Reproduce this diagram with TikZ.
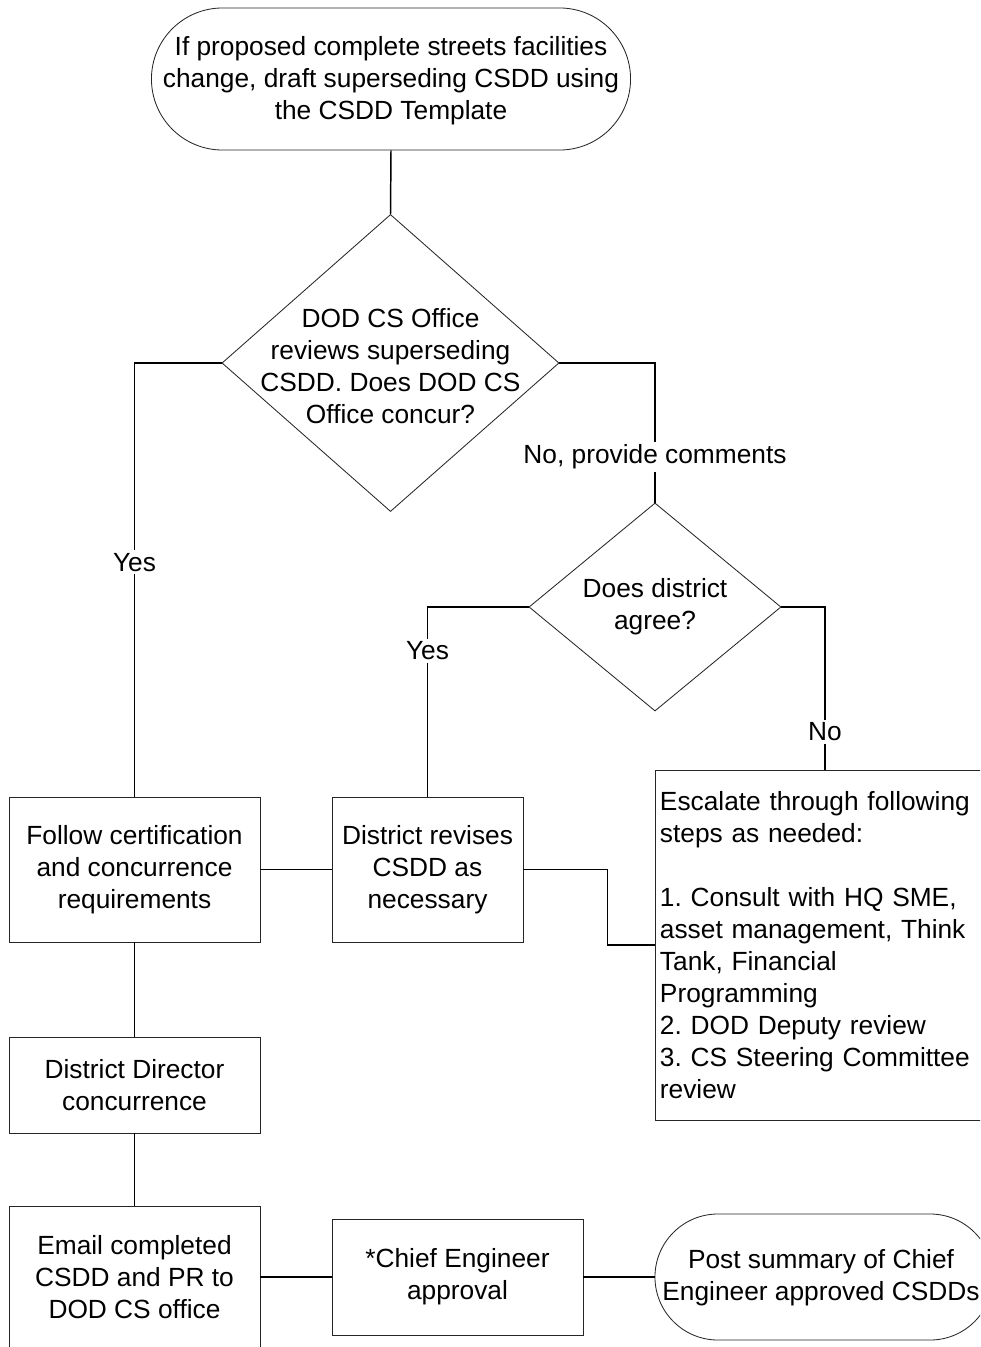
\documentclass[tikz,border=0pt]{standalone}
\usepackage{fontspec}
\setmainfont{Liberation Sans}
\usetikzlibrary{shapes.geometric,shapes.misc}
\frenchspacing

\newcommand{\flowfont}{\fontsize{18.7}{22.8}\selectfont}
\tikzset{
	base/.style={draw=black!85, line width=0.6pt, font=\flowfont, inner sep=0pt},
	stepbox/.style={base, rectangle, align=center},
	decision/.style={base, diamond},
	terminal/.style={base, rounded rectangle},
	caption/.style={font=\flowfont, align=center, inner sep=0pt},
	link/.style={line width=1.05pt},
	lbl/.style={font=\flowfont, fill=white, inner sep=2pt},
}

\begin{document}
\begin{tikzpicture}[x=0.025cm, y=-0.025cm]
		\useasboundingbox (0,0) rectangle (980,1347);
		\clip (0,0) rectangle (980,1347);
		% shapes
		\node[terminal, minimum width=11.975cm, minimum height=3.55cm] (start) at (391,79) {};
		\node[caption] (starttext) at (391,81) {If proposed complete streets facilities\\change, draft superseding CSDD using\\the CSDD Template};
		\node[decision, minimum width=8.425cm, minimum height=7.425cm] (q1) at (390.5,363) {};
		\node[caption] (q1text) at (390.5,366) {DOD CS Office\\reviews superseding\\CSDD. Does DOD CS\\Office concur?};
		\node[decision, minimum width=6.3cm, minimum height=5.2cm] (q2) at (655,607) {};
		\node[caption] (q2text) at (655,607) {Does district\\agree?};
		\node[stepbox, minimum width=6.275cm, minimum height=3.625cm] (follow) at (134.5,869.5) {Follow certification\\and concurrence\\requirements};
		\node[stepbox, minimum width=4.775cm, minimum height=3.625cm] (revise) at (427.5,869.5) {District revises\\CSDD as\\necessary};
		\node[base, align=left, text width=8.25cm, inner xsep=0.125cm, minimum height=8.75cm] (escalate) at (825,945)
		{Escalate through following\\steps as needed:\\\mbox{}\\1. Consult with HQ SME,\\asset management, Think\\Tank, Financial\\Programming\\2. DOD Deputy review\\3. CS Steering Committee\\review};
		\node[stepbox, minimum width=6.275cm, minimum height=2.4cm] (director) at (134.5,1085) {District Director\\concurrence};
		\node[stepbox, minimum width=6.275cm, minimum height=3.55cm] (email) at (134.5,1277) {Email completed\\CSDD and PR to\\DOD CS office};
		\node[stepbox, minimum width=6.275cm, minimum height=2.9cm] (chief) at (457.5,1277) {*Chief Engineer\\approval};
		\node[terminal, minimum width=8.45cm, minimum height=3.15cm] (post) at (824,1277) {};
		\node[caption] (posttext) at (821,1278) {Post summary of Chief\\Engineer approved CSDDs};
		% connectors
		\draw[link] (start.south) -- (q1.north);
		\draw[link] (q1.west) -| node[lbl, pos=0.73] (yes1) {Yes} (follow.north);
		\draw[link] (q1.east) -| node[lbl, pos=0.836] (no1) {No, provide comments} (q2.north);
		\draw[link] (q2.west) -| node[lbl, pos=0.615] (yes2) {Yes} (revise.north);
		\draw[link] (q2.east) -| node[lbl, pos=0.884] (no2) {No} (escalate.north);
		\draw[link] (follow.east) -- (revise.west);
		\draw[link] (revise.east) -- ++(84,0) |- (escalate.west);
		\draw[link] (follow.south) -- (director.north);
		\draw[link] (director.south) -- (email.north);
		\draw[link] (email.east) -- (chief.west);
		\draw[link] (chief.east) -- (post.west);
\end{tikzpicture}
\end{document}
